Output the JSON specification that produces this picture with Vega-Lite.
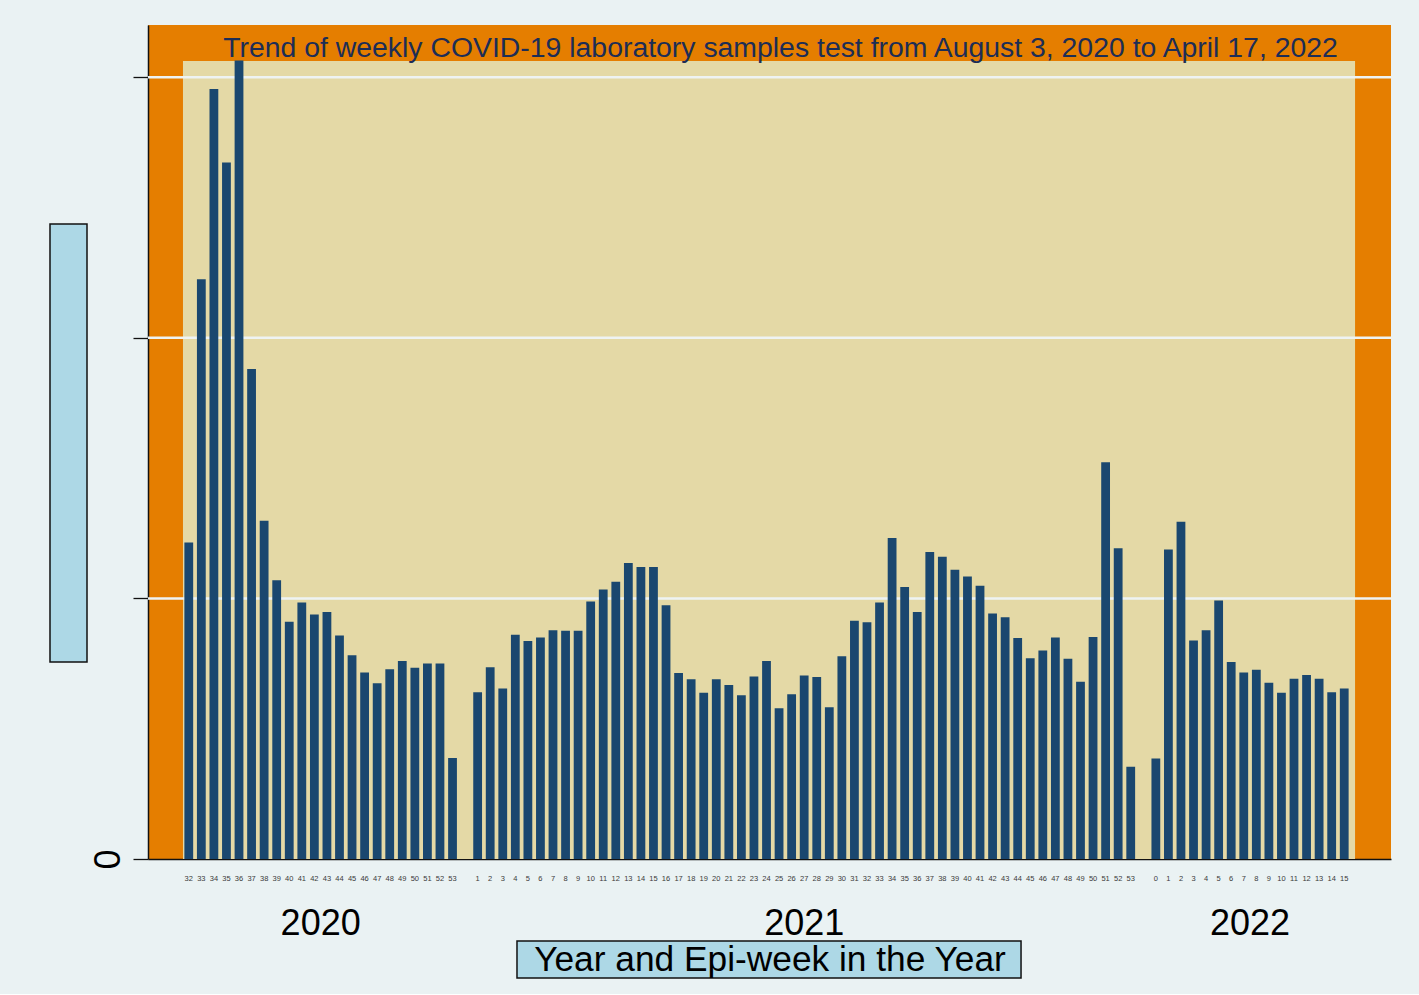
{
  "$schema": "https://vega.github.io/schema/vega-lite/v6.json",
  "background": "#eaf2f3",
  "padding": {"left": 49, "top": 25, "right": 28, "bottom": 15},
  "spacing": 2,
  "config": {
    "font": "Liberation Sans",
    "view": {"stroke": null},
    "axis": {"labelFont": "Liberation Sans", "titleFont": "Liberation Sans"},
    "title": {"font": "Liberation Sans"}
  },
  "data": {
    "values": [
      {"period": "2020-32", "year": 2020, "week": 32, "tests": 6070},
      {"period": "2020-33", "year": 2020, "week": 33, "tests": 11120},
      {"period": "2020-34", "year": 2020, "week": 34, "tests": 14770},
      {"period": "2020-35", "year": 2020, "week": 35, "tests": 13360},
      {"period": "2020-36", "year": 2020, "week": 36, "tests": 15320},
      {"period": "2020-37", "year": 2020, "week": 37, "tests": 9400},
      {"period": "2020-38", "year": 2020, "week": 38, "tests": 6490},
      {"period": "2020-39", "year": 2020, "week": 39, "tests": 5350},
      {"period": "2020-40", "year": 2020, "week": 40, "tests": 4550},
      {"period": "2020-41", "year": 2020, "week": 41, "tests": 4920},
      {"period": "2020-42", "year": 2020, "week": 42, "tests": 4690},
      {"period": "2020-43", "year": 2020, "week": 43, "tests": 4740},
      {"period": "2020-44", "year": 2020, "week": 44, "tests": 4290},
      {"period": "2020-45", "year": 2020, "week": 45, "tests": 3910},
      {"period": "2020-46", "year": 2020, "week": 46, "tests": 3580},
      {"period": "2020-47", "year": 2020, "week": 47, "tests": 3370},
      {"period": "2020-48", "year": 2020, "week": 48, "tests": 3640},
      {"period": "2020-49", "year": 2020, "week": 49, "tests": 3800},
      {"period": "2020-50", "year": 2020, "week": 50, "tests": 3670},
      {"period": "2020-51", "year": 2020, "week": 51, "tests": 3750},
      {"period": "2020-52", "year": 2020, "week": 52, "tests": 3750},
      {"period": "2020-53", "year": 2020, "week": 53, "tests": 1940},
      {"period": "2021-1", "year": 2021, "week": 1, "tests": 3200},
      {"period": "2021-2", "year": 2021, "week": 2, "tests": 3680},
      {"period": "2021-3", "year": 2021, "week": 3, "tests": 3270},
      {"period": "2021-4", "year": 2021, "week": 4, "tests": 4300},
      {"period": "2021-5", "year": 2021, "week": 5, "tests": 4180},
      {"period": "2021-6", "year": 2021, "week": 6, "tests": 4250},
      {"period": "2021-7", "year": 2021, "week": 7, "tests": 4390},
      {"period": "2021-8", "year": 2021, "week": 8, "tests": 4380},
      {"period": "2021-9", "year": 2021, "week": 9, "tests": 4380},
      {"period": "2021-10", "year": 2021, "week": 10, "tests": 4940},
      {"period": "2021-11", "year": 2021, "week": 11, "tests": 5170},
      {"period": "2021-12", "year": 2021, "week": 12, "tests": 5320},
      {"period": "2021-13", "year": 2021, "week": 13, "tests": 5680},
      {"period": "2021-14", "year": 2021, "week": 14, "tests": 5600},
      {"period": "2021-15", "year": 2021, "week": 15, "tests": 5600},
      {"period": "2021-16", "year": 2021, "week": 16, "tests": 4870},
      {"period": "2021-17", "year": 2021, "week": 17, "tests": 3570},
      {"period": "2021-18", "year": 2021, "week": 18, "tests": 3450},
      {"period": "2021-19", "year": 2021, "week": 19, "tests": 3190},
      {"period": "2021-20", "year": 2021, "week": 20, "tests": 3450},
      {"period": "2021-21", "year": 2021, "week": 21, "tests": 3340},
      {"period": "2021-22", "year": 2021, "week": 22, "tests": 3140},
      {"period": "2021-23", "year": 2021, "week": 23, "tests": 3500},
      {"period": "2021-24", "year": 2021, "week": 24, "tests": 3800},
      {"period": "2021-25", "year": 2021, "week": 25, "tests": 2890},
      {"period": "2021-26", "year": 2021, "week": 26, "tests": 3160},
      {"period": "2021-27", "year": 2021, "week": 27, "tests": 3520},
      {"period": "2021-28", "year": 2021, "week": 28, "tests": 3490},
      {"period": "2021-29", "year": 2021, "week": 29, "tests": 2910},
      {"period": "2021-30", "year": 2021, "week": 30, "tests": 3890},
      {"period": "2021-31", "year": 2021, "week": 31, "tests": 4570},
      {"period": "2021-32", "year": 2021, "week": 32, "tests": 4540},
      {"period": "2021-33", "year": 2021, "week": 33, "tests": 4920},
      {"period": "2021-34", "year": 2021, "week": 34, "tests": 6160},
      {"period": "2021-35", "year": 2021, "week": 35, "tests": 5220},
      {"period": "2021-36", "year": 2021, "week": 36, "tests": 4740},
      {"period": "2021-37", "year": 2021, "week": 37, "tests": 5890},
      {"period": "2021-38", "year": 2021, "week": 38, "tests": 5800},
      {"period": "2021-39", "year": 2021, "week": 39, "tests": 5550},
      {"period": "2021-40", "year": 2021, "week": 40, "tests": 5420},
      {"period": "2021-41", "year": 2021, "week": 41, "tests": 5240},
      {"period": "2021-42", "year": 2021, "week": 42, "tests": 4710},
      {"period": "2021-43", "year": 2021, "week": 43, "tests": 4640},
      {"period": "2021-44", "year": 2021, "week": 44, "tests": 4240},
      {"period": "2021-45", "year": 2021, "week": 45, "tests": 3850},
      {"period": "2021-46", "year": 2021, "week": 46, "tests": 4000},
      {"period": "2021-47", "year": 2021, "week": 47, "tests": 4250},
      {"period": "2021-48", "year": 2021, "week": 48, "tests": 3840},
      {"period": "2021-49", "year": 2021, "week": 49, "tests": 3400},
      {"period": "2021-50", "year": 2021, "week": 50, "tests": 4260},
      {"period": "2021-51", "year": 2021, "week": 51, "tests": 7610},
      {"period": "2021-52", "year": 2021, "week": 52, "tests": 5960},
      {"period": "2021-53", "year": 2021, "week": 53, "tests": 1770},
      {"period": "2022-0", "year": 2022, "week": 0, "tests": 1930},
      {"period": "2022-1", "year": 2022, "week": 1, "tests": 5940},
      {"period": "2022-2", "year": 2022, "week": 2, "tests": 6470},
      {"period": "2022-3", "year": 2022, "week": 3, "tests": 4190},
      {"period": "2022-4", "year": 2022, "week": 4, "tests": 4390},
      {"period": "2022-5", "year": 2022, "week": 5, "tests": 4960},
      {"period": "2022-6", "year": 2022, "week": 6, "tests": 3780},
      {"period": "2022-7", "year": 2022, "week": 7, "tests": 3580},
      {"period": "2022-8", "year": 2022, "week": 8, "tests": 3630},
      {"period": "2022-9", "year": 2022, "week": 9, "tests": 3380},
      {"period": "2022-10", "year": 2022, "week": 10, "tests": 3190},
      {"period": "2022-11", "year": 2022, "week": 11, "tests": 3460},
      {"period": "2022-12", "year": 2022, "week": 12, "tests": 3530},
      {"period": "2022-13", "year": 2022, "week": 13, "tests": 3460},
      {"period": "2022-14", "year": 2022, "week": 14, "tests": 3200},
      {"period": "2022-15", "year": 2022, "week": 15, "tests": 3270}
    ]
  },
  "hconcat": [
    {
      "width": 37,
      "height": 834,
      "data": {"values": [{}]},
      "view": {"stroke": null},
      "mark": {"type": "rect", "fill": "#add8e6", "stroke": "#111111", "strokeWidth": 1.5},
      "encoding": {
        "y": {"datum": 3779, "type": "quantitative", "scale": {"domain": [0, 16000], "nice": false}, "axis": null},
        "y2": {"datum": 12183}
      }
    },
    {
      "width": 1243,
      "height": 834,
      "view": {"fill": "#e57e00", "stroke": null},
      "title": {
        "text": "Trend of weekly COVID-19 laboratory samples test from August 3, 2020 to April 17, 2022",
        "fontSize": 28.4,
        "fontWeight": "normal",
        "color": "#1c2d56",
        "anchor": "middle",
        "baseline": "alphabetic",
        "offset": -60,
        "dx": 11
      },
      "resolve": {"axis": {"x": "independent", "y": "independent"}},
      "layer": [
        {
          "data": {"values": [{}]},
          "mark": {"type": "rect", "fill": "#e4d9a6"},
          "encoding": {
            "x": {"datum": "2020-32", "type": "nominal", "bandPosition": -0.16, "axis": null},
            "x2": {"datum": "2022-15", "bandPosition": 1.73},
            "y": {"datum": 0, "type": "quantitative", "axis": null},
            "y2": {"datum": 15310}
          }
        },
        {
          "data": {"values": [{"grid": 5000}, {"grid": 10000}, {"grid": 15000}]},
          "mark": {"type": "rule", "color": "#eef3f3", "strokeWidth": 2.5},
          "encoding": {
            "y": {"field": "grid", "type": "quantitative", "axis": null}
          }
        },
        {
          "mark": {"type": "bar", "color": "#1a476f"},
          "encoding": {
            "x": {
              "field": "period",
              "type": "nominal",
              "scale": {
                "domain": ["_p1","_p2","2020-32","2020-33","2020-34","2020-35","2020-36","2020-37","2020-38","2020-39","2020-40","2020-41","2020-42","2020-43","2020-44","2020-45","2020-46","2020-47","2020-48","2020-49","2020-50","2020-51","2020-52","2020-53","_g1",
                  "2021-1","2021-2","2021-3","2021-4","2021-5","2021-6","2021-7","2021-8","2021-9","2021-10","2021-11","2021-12","2021-13","2021-14","2021-15","2021-16","2021-17","2021-18","2021-19","2021-20","2021-21","2021-22","2021-23","2021-24","2021-25","2021-26","2021-27","2021-28","2021-29","2021-30","2021-31","2021-32","2021-33","2021-34","2021-35","2021-36","2021-37","2021-38","2021-39","2021-40","2021-41","2021-42","2021-43","2021-44","2021-45","2021-46","2021-47","2021-48","2021-49","2021-50","2021-51","2021-52","2021-53","_g2",
                  "2022-0","2022-1","2022-2","2022-3","2022-4","2022-5","2022-6","2022-7","2022-8","2022-9","2022-10","2022-11","2022-12","2022-13","2022-14","2022-15","_p3","_p4","_p5"],
                "paddingInner": 0.3,
                "paddingOuter": 0.635,
                "align": 0.706
              },
              "axis": {
                "orient": "bottom",
                "labelExpr": "slice(datum.value, 0, 1) == '_' ? '' : slice(datum.value, 5)",
                "labelAngle": 0,
                "labelFontSize": 7.5,
                "labelColor": "#3a3a3a",
                "labelOverlap": false,
                "labelPadding": 15,
                "ticks": false,
                "tickSize": 0,
                "domainColor": "#111111",
                "domainWidth": 1.5,
                "grid": false,
                "title": null
              }
            },
            "y": {
              "field": "tests",
              "type": "quantitative",
              "scale": {"domain": [0, 16000], "nice": false},
              "axis": {
                "values": [0, 5000, 10000, 15000],
                "labelExpr": "datum.value == 0 ? '0' : ''",
                "labelAngle": 270,
                "labelAlign": "center",
                "labelBaseline": "bottom",
                "labelFlush": false,
                "labelFontSize": 36,
                "labelColor": "black",
                "labelPadding": 5.6,
                "tickSize": 15,
                "tickColor": "#111111",
                "tickWidth": 1.3,
                "domainColor": "#111111",
                "domainWidth": 1.5,
                "grid": false,
                "title": null
              }
            }
          }
        },
        {
          "data": {"values": [{}]},
          "mark": {"type": "rect", "fill": "#add8e6", "stroke": "#111111", "strokeWidth": 1.5},
          "encoding": {
            "x": {
              "datum": "2021-4",
              "type": "nominal",
              "bandPosition": 0.69,
              "axis": {
                "orient": "bottom",
                "values": ["2020-42", "2021-27", "2022-7"],
                "labelExpr": "slice(datum.value, 0, 4)",
                "labelOffset": {"condition": {"test": "datum.value == '2021-27'", "value": 0}, "value": 6.3},
                "labelAngle": 0,
                "labelFontSize": 36,
                "labelColor": "black",
                "labelPadding": 47,
                "ticks": false,
                "tickSize": 0,
                "domain": false,
                "grid": false,
                "title": "Year and Epi-week in the Year",
                "titleFontSize": 35.3,
                "titleFontWeight": "normal",
                "titleColor": "black",
                "titlePadding": 1
              }
            },
            "x2": {"datum": "2021-44", "bandPosition": 0.88},
            "y": {"datum": -1573, "type": "quantitative", "axis": null},
            "y2": {"datum": -2283}
          }
        }
      ]
    }
  ]
}
